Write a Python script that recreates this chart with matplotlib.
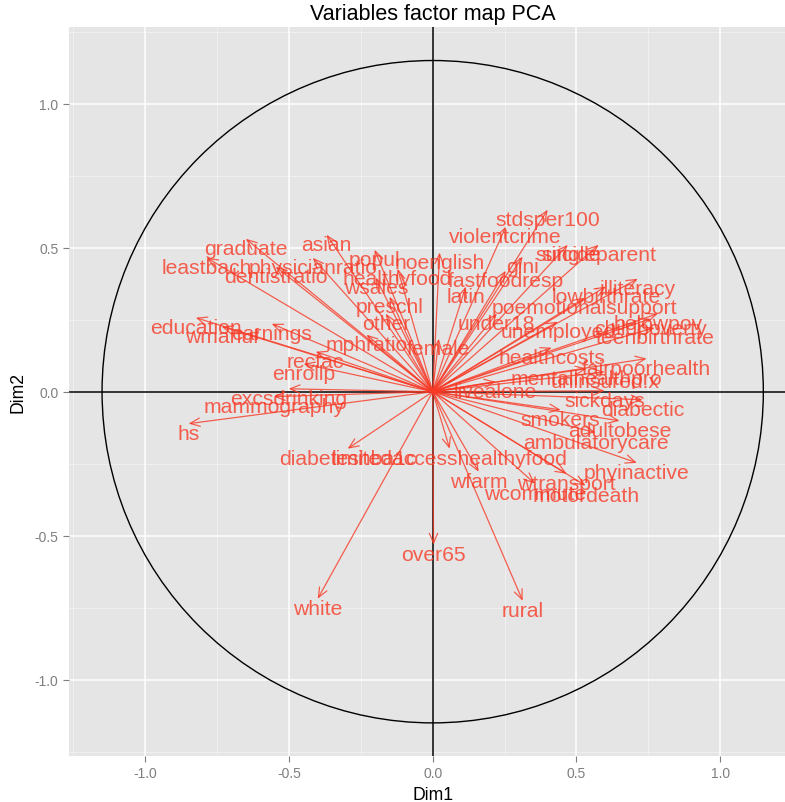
import matplotlib
matplotlib.use("Agg")
import matplotlib.pyplot as plt
from matplotlib.patches import Circle

# variable coordinates on Dim1 / Dim2 (arrow tips)
variables = [
    "stdsper100", "violentcrime", "suicide", "singleparent", "gini", "fastfoodresp",
    "noenglish", "latin", "under18", "poemotionalsupport", "lowbirthrate", "illiteracy",
    "unemployed", "belowpov", "childpoverty", "teenbirthrate", "healthcosts",
    "fairpoorhealth", "mentalhealthpro", "uninsured.x", "livealone", "sickdays",
    "diabectic", "smokers", "adultobese", "ambulatorycare", "phyinactive", "wfarm",
    "wtransport", "wcommute", "motordeath", "limitedaccesshealthyfood", "diabeteshba1c",
    "over65", "white", "rural", "hs", "mammography", "excsdrinking", "enrollp", "recfac",
    "education", "wmanuf", "earnings", "mphratio", "female", "other", "preschl",
    "wsales", "healthyfood", "popul", "dentistratio", "physicianratio", "leastbach",
    "graduate", "asian",
]
dim1 = [
    0.400, 0.254, 0.470, 0.577, 0.313, 0.254,
    0.024, 0.115, 0.223, 0.529, 0.602, 0.713,
    0.435, 0.783, 0.758, 0.772, 0.414,
    0.744, 0.536, 0.598, 0.219, 0.598,
    0.730, 0.445, 0.650, 0.567, 0.710, 0.160,
    0.466, 0.355, 0.532, 0.059, -0.296,
    0.003, -0.400, 0.313, -0.849, -0.553, -0.501, -0.449, -0.407,
    -0.824, -0.734, -0.560, -0.230, 0.021, -0.163, -0.150,
    -0.198, -0.122, -0.202, -0.546, -0.417, -0.786,
    -0.650, -0.369,
]
dim2 = [
    0.632, 0.573, 0.510, 0.510, 0.469, 0.420,
    0.483, 0.365, 0.271, 0.326, 0.365, 0.392,
    0.243, 0.271, 0.253, 0.222, 0.153,
    0.115, 0.080, 0.069, 0.035, 0.003,
    -0.028, -0.063, -0.101, -0.142, -0.247, -0.278,
    -0.285, -0.319, -0.326, -0.198, -0.198,
    -0.531, -0.719, -0.726, -0.111, -0.017, 0.010, 0.097, 0.139,
    0.257, 0.226, 0.236, 0.198, 0.184, 0.271, 0.330,
    0.396, 0.427, 0.493, 0.434, 0.465, 0.465,
    0.531, 0.545,
]
ticks = [-1.0, -0.5, 0.0, 0.5, 1.0]
tick_labels = ["-1.0", "-0.5", "0.0", "0.5", "1.0"]
circle_radius = 1.15

plt.rcParams['font.family'] = ['Liberation Sans', 'DejaVu Sans']

fig = plt.figure(figsize=(7.85, 8.03), dpi=100)
ax = fig.add_axes([69 / 785, 46 / 803, 727.4 / 785, 728.6 / 803])
ax.set_facecolor('#E5E5E5')

lim = 1.265
ax.set_xlim(-lim, lim)
ax.set_ylim(-lim, lim)

# grid like ggplot
for v in [-1.25, -0.75, -0.25, 0.25, 0.75, 1.25]:
    ax.axvline(v, color='#F2F2F2', lw=0.6, zorder=0)
    ax.axhline(v, color='#F2F2F2', lw=0.6, zorder=0)
for v in ticks:
    ax.axvline(v, color='white', lw=1.1, zorder=0)
    ax.axhline(v, color='white', lw=1.1, zorder=0)

ax.axhline(0, color='black', lw=1.1, zorder=1)
ax.axvline(0, color='black', lw=1.1, zorder=1)
ax.add_patch(Circle((0, 0), circle_radius, fill=False, ec='black', lw=1.0, zorder=1))

red = '#F83A26'
for name, x, y in zip(variables, dim1, dim2):
    ax.annotate("", xy=(x, y), xytext=(0, 0),
                arrowprops=dict(arrowstyle='->,head_length=0.7,head_width=0.3',
                                color=red, alpha=0.8, lw=0.9,
                                shrinkA=0, shrinkB=0, mutation_scale=10),
                zorder=2)
    ax.text(x, y, name, color=red, alpha=0.8, fontsize=15.2,
            ha='center', va='top', zorder=3)

for s in ax.spines.values():
    s.set_visible(False)
ax.set_xticks(ticks)
ax.set_xticklabels(tick_labels)
ax.set_yticks(ticks)
ax.set_yticklabels(tick_labels)
ax.tick_params(colors='#7F7F7F', labelsize=10, length=4, width=0.8)

ax.set_xlabel("Dim1", fontsize=12.7, labelpad=4)
ax.set_ylabel("Dim2", fontsize=12.7, labelpad=6)
ax.set_title("Variables factor map PCA", fontsize=15.5, pad=6)

fig.savefig("out.png", dpi=100)
